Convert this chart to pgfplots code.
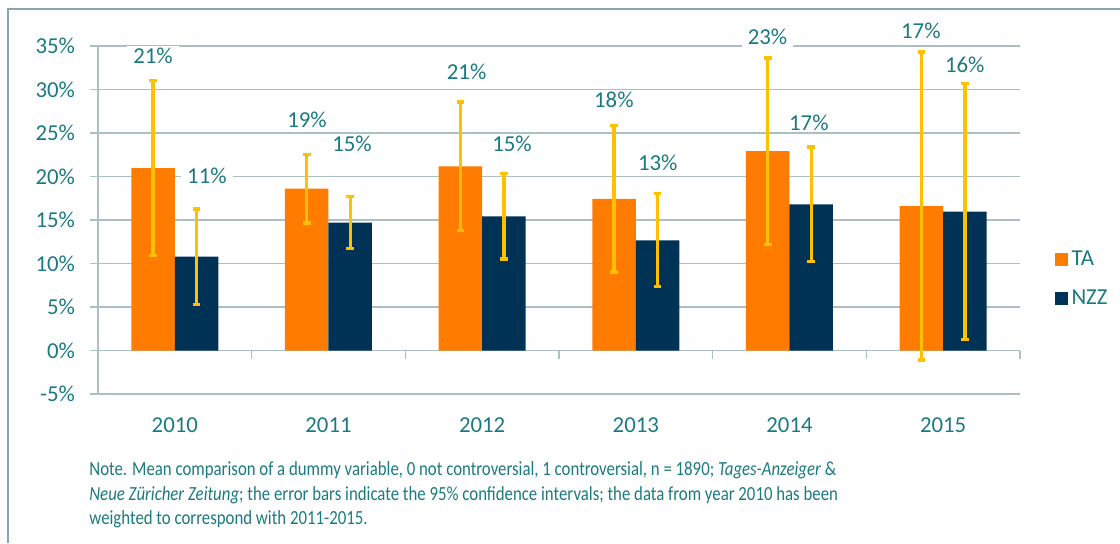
\documentclass[border=0pt]{standalone}
\usepackage{pgfplots}
\pgfplotsset{compat=1.18}
\usepackage{fontspec}
\setmainfont{Carlito}
\definecolor{ta}{RGB}{255,124,0}
\definecolor{nzz}{RGB}{0,50,85}
\definecolor{errc}{RGB}{255,192,0}
\definecolor{txt}{RGB}{27,122,128}
\definecolor{gridc}{RGB}{172,192,194}
\definecolor{framec}{RGB}{140,165,165}
\newcommand{\lab}{\fontsize{11.4}{13}\selectfont}
\newcommand{\note}[1]{\scalebox{0.84}[1]{#1}}

\begin{document}
\begin{tikzpicture}
\useasboundingbox (0,0) rectangle (560pt,271.5pt);
\draw[framec, line width=1pt] (4pt,0) -- (4pt,267pt) -- (560pt,267pt);
\begin{axis}[
  at={(49pt,74.5pt)}, anchor=south west,
  scale only axis, width=461pt, height=174pt,
  ybar=0pt, bar width=21.75pt,
  xmin=-0.5, xmax=5.5, ymin=-5, ymax=35,
  xtick={0,...,5}, xticklabels={2010,2011,2012,2013,2014,2015},
  ytick={-5,0,5,10,15,20,25,30,35},
  yticklabels={-5\%,0\%,5\%,10\%,15\%,20\%,25\%,30\%,35\%},
  ymajorgrids, grid style={gridc, line width=0.75pt},
  axis line style={draw=none},
  tick pos=left, tick align=outside, major tick length=4pt,
  ytick style={gridc, line width=0.75pt},
  xtick style={draw=none},
  tick label style={font=\lab, text=txt},
  xticklabel style={anchor=center, yshift=-11.5pt},
  yticklabel style={anchor=east, xshift=-4pt},
  clip=false,
  legend style={draw=none, fill=none, at={(1.037,0.33)}, anchor=west,
    font=\lab, text=txt, inner sep=0pt, row sep=7pt},
  legend cell align=left,
  legend image code/.code={\fill[#1] (0pt,-3.25pt) rectangle (6.5pt,3.25pt);},
  error bars/error bar style={errc, line width=1.65pt},
  error bars/error mark options={errc, line width=1.65pt, mark size=1.9pt, rotate=90},
]
\draw[gridc, line width=0.75pt] (axis cs:-0.5,-5) -- (axis cs:-0.5,35);
\draw[gridc, line width=0.75pt] (axis cs:0.5,0) -- ([yshift=-4pt]axis cs:0.5,0);
\draw[gridc, line width=0.75pt] (axis cs:1.5,0) -- ([yshift=-4pt]axis cs:1.5,0);
\draw[gridc, line width=0.75pt] (axis cs:2.5,0) -- ([yshift=-4pt]axis cs:2.5,0);
\draw[gridc, line width=0.75pt] (axis cs:3.5,0) -- ([yshift=-4pt]axis cs:3.5,0);
\draw[gridc, line width=0.75pt] (axis cs:4.5,0) -- ([yshift=-4pt]axis cs:4.5,0);
\draw[gridc, line width=0.75pt] (axis cs:5.5,0) -- ([yshift=-4pt]axis cs:5.5,0);

\addplot[fill=ta, draw=none, error bars/.cd, y dir=both, y explicit] coordinates {
(0,20.97) +- (0,10.05)
(1,18.6) +- (0,3.95)
(2,21.16) +- (0,7.4)
(3,17.44) +- (0,8.4)
(4,22.92) +- (0,10.7)
(5,16.6) +- (0,17.7)
};
\addlegendentry{TA}
\addplot[fill=nzz, draw=none, error bars/.cd, y dir=both, y explicit] coordinates {
(0,10.79) +- (0,5.47)
(1,14.7) +- (0,3.0)
(2,15.42) +- (0,4.9)
(3,12.67) +- (0,5.35)
(4,16.8) +- (0,6.6)
(5,15.95) +- (0,14.7)
};
\addlegendentry{NZZ}

\begin{scope}[every node/.style={font=\lab, text=txt, fill=white, inner xsep=3pt, inner ysep=1pt}]
\node at (axis cs:-0.142,33.9) {21\%};
\node at (axis cs:0.209,20.05) {11\%};
\node at (axis cs:0.86,26.5) {19\%};
\node at (axis cs:1.153,23.7) {15\%};
\node at (axis cs:1.899,32.0) {21\%};
\node at (axis cs:2.194,23.7) {15\%};
\node at (axis cs:2.857,28.8) {18\%};
\node at (axis cs:3.143,21.6) {13\%};
\node at (axis cs:3.857,36.0) {23\%};
\node at (axis cs:4.126,26.2) {17\%};
\node at (axis cs:4.855,36.7) {17\%};
\node at (axis cs:5.141,32.8) {16\%};
\end{scope}
\end{axis}
\begin{scope}[every node/.style={anchor=base west, inner sep=0pt, text=txt, font=\fontsize{10}{12}\selectfont}]
\node at (44.5pt,33.65pt) {\note{Note. Mean comparison of a dummy variable, 0 not controversial, 1 controversial, n = 1890; \textit{Tages-Anzeiger} \&}};
\node at (44.5pt,21.4pt) {\note{\textit{Neue Züricher Zeitung}; the error bars indicate the 95\% confidence intervals; the data from year 2010 has been}};
\node at (44.5pt,9.1pt) {\note{weighted to correspond with 2011-2015.}};
\end{scope}
\end{tikzpicture}
\end{document}
